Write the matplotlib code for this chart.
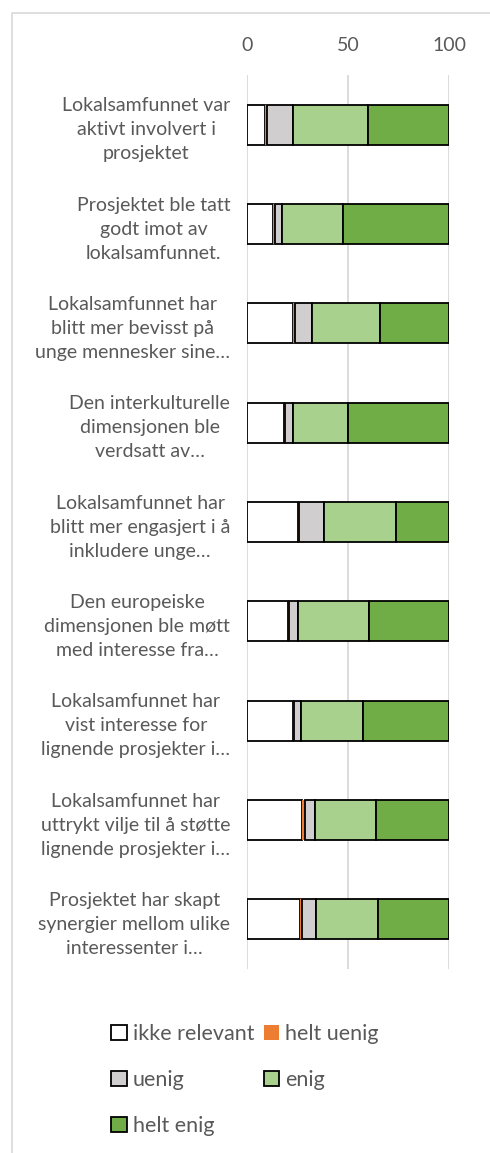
import matplotlib
matplotlib.use("Agg")
import matplotlib.pyplot as plt
from matplotlib.patches import Rectangle, Patch
import numpy as np

plt.rcParams['font.family'] = ['Lato', 'DejaVu Sans']

categories = [
    "Lokalsamfunnet var\naktivt involvert i\nprosjektet",
    "Prosjektet ble tatt\ngodt imot av\nlokalsamfunnet.",
    "Lokalsamfunnet har\nblitt mer bevisst på\nunge mennesker sine…",
    "Den interkulturelle\ndimensjonen ble\nverdsatt av…",
    "Lokalsamfunnet har\nblitt mer engasjert i å\ninkludere unge…",
    "Den europeiske\ndimensjonen ble møtt\nmed interesse fra…",
    "Lokalsamfunnet har\nvist interesse for\nlignende prosjekter i…",
    "Lokalsamfunnet har\nuttrykt vilje til å støtte\nlignende prosjekter i…",
    "Prosjektet har skapt\nsynergier mellom ulike\ninteressenter i…",
]
series_names = ["ikke relevant", "helt uenig", "uenig", "enig", "helt enig"]
ikke_relevant = [9.0, 13.0, 23.0, 18.3, 25.0, 20.3, 22.8, 27.4, 26.1]
helt_uenig    = [1.0, 1.0, 0.8, 0.5, 0.6, 0.7, 0.5, 1.3, 0.9]
uenig         = [12.8, 3.2, 8.6, 4.0, 12.4, 4.3, 3.3, 5.2, 7.4]
enig          = [37.2, 30.4, 33.6, 27.1, 35.9, 34.9, 30.8, 30.2, 30.4]
helt_enig     = [40.0, 52.4, 34.0, 50.1, 26.1, 39.8, 42.6, 35.9, 35.2]
xticks = [0, 50, 100]

colors = ["#FFFFFF", "#ED7D31", "#D0CECE", "#A9D18E", "#70AD47"]
edges = ["black", "none", "black", "black", "black"]

W, H = 490, 1153
fig = plt.figure(figsize=(W / 100, H / 100), dpi=100)

# chart area frame
fig.patches.append(Rectangle((12 / W, -0.01), 1.0, 1 - 13 / H + 0.01,
                             transform=fig.transFigure, fill=False,
                             edgecolor="#D9D9D9", linewidth=1.2))

ax = fig.add_axes([247 / W, 1 - 969 / H, (449 - 247) / W, (969 - 75) / H])

data = [ikke_relevant, helt_uenig, uenig, enig, helt_enig]
y = np.arange(len(categories))
left = np.zeros(len(categories))
handles = []
for name, vals, c, ec in zip(series_names, data, colors, edges):
    vals = np.array(vals)
    ax.barh(y, vals, left=left, height=0.4, color=c,
            edgecolor=ec, linewidth=1.3 if ec != "none" else 0, zorder=3)
    left += vals
    handles.append(Patch(facecolor=c, edgecolor=ec,
                         linewidth=1.3 if ec != "none" else 0, label=name))

ax.set_xlim(0, 100)
ax.set_ylim(len(categories) - 0.5, -0.5)
ax.set_xticks(xticks)
ax.xaxis.tick_top()
ax.tick_params(axis='x', length=0, pad=15, labelsize=14, labelcolor="#595959")
ax.grid(axis='x', color="#D9D9D9", linewidth=1.3, zorder=0)
ax.set_yticks(y)
ax.set_yticklabels(categories)
ax.tick_params(axis='y', length=0, pad=12, labelsize=14, labelcolor="#595959")
for lbl in ax.get_yticklabels():
    lbl.set_multialignment('center')
    lbl.set_linespacing(1.5)
for s in ax.spines.values():
    s.set_visible(False)

order = [0, 2, 4, 1, 3]
leg = fig.legend([handles[i] for i in order], [series_names[i] for i in order],
                 ncol=2, loc='center', bbox_to_anchor=(245 / W, 1 - 1080 / H),
                 frameon=False, fontsize=15.5, handlelength=0.7, handleheight=0.7,
                 handletextpad=0.3, columnspacing=0.42, labelspacing=1.2,
                 labelcolor="#595959")

fig.savefig("out.png", dpi=100)
